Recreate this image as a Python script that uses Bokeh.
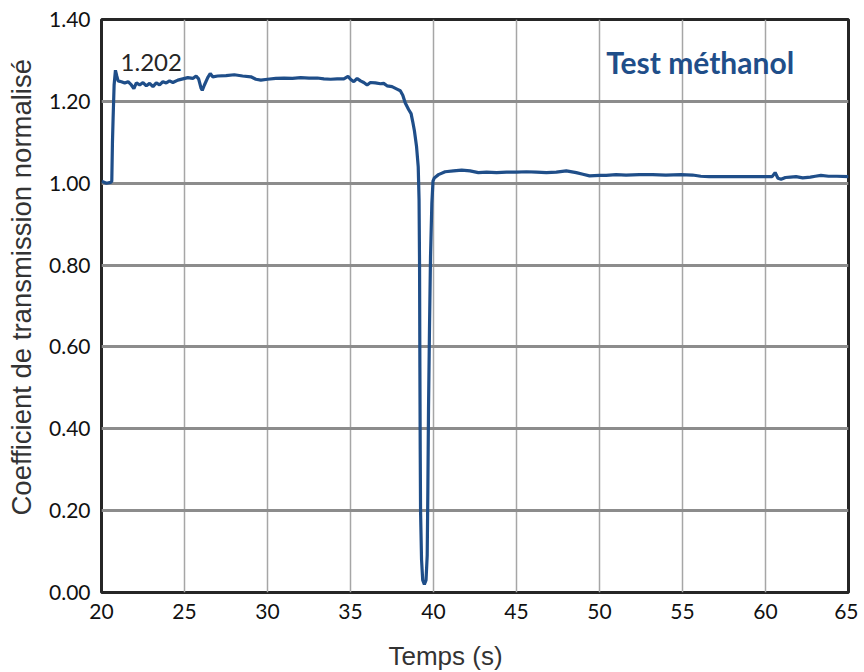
from bokeh.plotting import figure
from bokeh.models import Range1d, FixedTicker, NumeralTickFormatter, Label, Title
from bokeh.embed import file_html
from bokeh.resources import INLINE

# ---- data ----
time_s = [20.0, 20.3, 20.55, 20.62, 20.66, 20.70, 20.76, 20.84, 20.92, 21.0,
          21.2, 21.4, 21.6, 21.8, 21.95, 22.1, 22.3, 22.5, 22.7, 22.9,
          23.1, 23.3, 23.5, 23.7, 23.9, 24.1, 24.3, 24.6, 24.9, 25.2,
          25.5, 25.7, 25.85, 26.0, 26.07, 26.2, 26.4, 26.55, 26.7, 27.0,
          27.5, 28.0, 28.5, 29.0, 29.3, 29.6, 30.0, 30.5, 31.0, 31.5,
          32.0, 32.5, 33.0, 33.4, 33.8, 34.2, 34.6, 34.85, 35.0, 35.2,
          35.4, 35.6, 35.8, 36.0, 36.2, 36.5, 36.8, 37.0, 37.2, 37.5,
          37.8, 38.0, 38.15, 38.3, 38.5, 38.65, 38.75, 38.85, 38.98, 39.08,
          39.13, 39.16, 39.18, 39.20, 39.22, 39.28, 39.35, 39.45, 39.55, 39.62,
          39.66, 39.70, 39.76, 39.82, 39.90, 39.97, 40.05, 40.3, 40.7, 41.2,
          41.7, 42.2, 42.7, 43.2, 43.8, 44.4, 45.0, 45.6, 46.2, 46.8,
          47.4, 48.0, 48.6, 49.0, 49.4, 50.0, 50.4, 51.0, 51.6, 52.4,
          53.2, 54.0, 54.9, 55.6, 56.1, 56.6, 57.5, 58.5, 59.5, 60.4,
          60.58, 60.75, 60.94, 61.2, 61.5, 61.84, 62.24, 62.7, 63.0, 63.34,
          63.8, 64.3, 65.0]
coeff = [1.005, 1.000, 1.002, 1.005, 1.10, 1.16, 1.24, 1.276, 1.262, 1.250,
         1.248, 1.245, 1.248, 1.240, 1.231, 1.245, 1.240, 1.246, 1.238, 1.244,
         1.236, 1.245, 1.240, 1.248, 1.245, 1.250, 1.246, 1.252, 1.255, 1.258,
         1.256, 1.262, 1.255, 1.232, 1.227, 1.240, 1.258, 1.268, 1.260, 1.262,
         1.263, 1.265, 1.262, 1.260, 1.254, 1.252, 1.254, 1.256, 1.257, 1.256,
         1.258, 1.257, 1.257, 1.255, 1.254, 1.255, 1.255, 1.261, 1.254, 1.248,
         1.256, 1.250, 1.246, 1.240, 1.246, 1.245, 1.243, 1.244, 1.238, 1.236,
         1.230, 1.226, 1.215, 1.196, 1.180, 1.170, 1.150, 1.128, 1.089, 1.040,
         0.96, 0.80, 0.55, 0.35, 0.20, 0.08, 0.03, 0.02, 0.03, 0.09,
         0.25, 0.45, 0.65, 0.82, 0.95, 1.005, 1.013, 1.021, 1.028, 1.030,
         1.032, 1.030, 1.026, 1.027, 1.026, 1.027, 1.027, 1.028, 1.027, 1.026,
         1.027, 1.030, 1.026, 1.022, 1.018, 1.019, 1.019, 1.021, 1.020, 1.021,
         1.021, 1.020, 1.021, 1.020, 1.017, 1.016, 1.016, 1.016, 1.016, 1.016,
         1.026, 1.012, 1.0095, 1.014, 1.015, 1.016, 1.013, 1.015, 1.017, 1.019,
         1.017, 1.017, 1.016]

x_ticks = [20, 25, 30, 35, 40, 45, 50, 55, 60, 65]
y_ticks = [0.0, 0.2, 0.4, 0.6, 0.8, 1.0, 1.2, 1.4]

peak_label = "1.202"
title_text = "Test méthanol"
x_title = "Temps (s)"
y_title = "Coefficient de transmission normalisé"

BLUE = "#1f4e89"

p = figure(width=858, height=671, output_backend="svg", toolbar_location=None,
           x_range=Range1d(20, 65), y_range=Range1d(0, 1.4),
           min_border_left=101, min_border_right=10, min_border_top=19,
           min_border_bottom=79)

p.background_fill_color = "white"
p.border_fill_color = "white"
p.outline_line_color = "#262626"
p.outline_line_width = 3

# grids
p.xgrid.ticker = FixedTicker(ticks=x_ticks)
p.ygrid.ticker = FixedTicker(ticks=y_ticks)
p.xgrid.grid_line_color = "#a6a6a6"
p.xgrid.grid_line_width = 1.5
p.ygrid.grid_line_color = "#8c8c8c"
p.ygrid.grid_line_width = 3

# axes
for ax in (p.xaxis[0], p.yaxis[0]):
    ax.axis_line_color = None
    ax.major_tick_line_color = None
    ax.minor_tick_line_color = None
    ax.major_tick_out = 0
    ax.major_tick_in = 0
    ax.major_label_text_font = "Lato"
    ax.major_label_text_font_size = "21px"
    ax.major_label_text_color = "#111111"

p.xaxis.ticker = FixedTicker(ticks=x_ticks)
p.yaxis.ticker = FixedTicker(ticks=y_ticks)
p.yaxis.formatter = NumeralTickFormatter(format="0.00")
p.xaxis.major_label_standoff = 11
p.yaxis.major_label_standoff = 11

# axis titles (placed off-centre, as in the reference)
p.add_layout(Title(text=x_title, align="left", offset=287,
                   text_font="Liberation Sans", text_font_size="26px",
                   text_font_style="normal", text_color="#333333",
                   standoff=0,
                   padding=dict(left=0, right=0, top=17, bottom=0)), "below")
p.add_layout(Title(text=y_title, align="left", offset=77,
                   text_font="Liberation Sans", text_font_size="27.5px",
                   text_font_style="normal", text_color="#333333",
                   standoff=0,
                   padding=dict(left=0, right=0, top=0, bottom=10)), "left")

# data line
p.line(time_s, coeff, line_color=BLUE, line_width=3.2)

# annotations
p.add_layout(Label(x=21.15, y=1.296, text=peak_label, text_font="Lato",
                   text_font_size="24px", text_color="#262626",
                   text_baseline="middle", text_align="left"))
p.add_layout(Label(x=50.4, y=1.296, text=title_text, text_font="Lato",
                   text_font_size="30px", text_font_style="bold",
                   text_color=BLUE, text_baseline="middle", text_align="left"))

open("out.html", "w").write(file_html(p, INLINE))
